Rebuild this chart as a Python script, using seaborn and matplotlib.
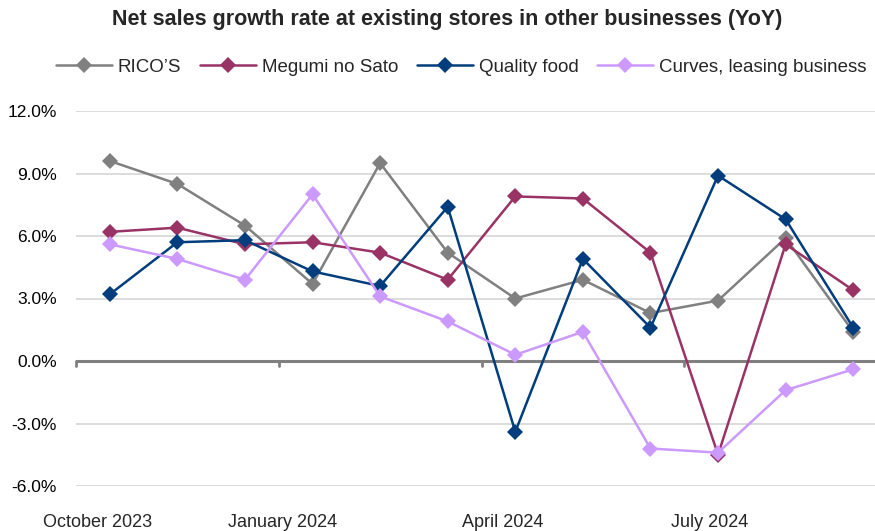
import matplotlib
matplotlib.use("Agg")
import matplotlib.pyplot as plt
import seaborn as sns
import pandas as pd
import numpy as np
from matplotlib.ticker import FuncFormatter, FixedLocator

months = ["2023-10", "2023-11", "2023-12", "2024-01", "2024-02", "2024-03",
          "2024-04", "2024-05", "2024-06", "2024-07", "2024-08", "2024-09"]
ricos = [9.6, 8.5, 6.5, 3.7, 9.5, 5.2, 3.0, 3.9, 2.3, 2.9, 5.9, 1.4]
megumi = [6.2, 6.4, 5.6, 5.7, 5.2, 3.9, 7.9, 7.8, 5.2, -4.5, 5.6, 3.4]
quality = [3.2, 5.7, 5.8, 4.3, 3.6, 7.4, -3.4, 4.9, 1.6, 8.9, 6.8, 1.6]
curves = [5.6, 4.9, 3.9, 8.0, 3.1, 1.9, 0.3, 1.4, -4.2, -4.4, -1.4, -0.4]
series_names = ["RICO\u2019S", "Megumi no Sato", "Quality food", "Curves, leasing business"]
colors = ["#808080", "#993366", "#003D7C", "#CC99FF"]
tick_labels = ["October 2023", "January 2024", "April 2024", "July 2024"]
tick_label_pos = [-0.18, 2.56, 5.82, 8.87]
yticks = [-6, -3, 0, 3, 6, 9, 12]
title = "Net sales growth rate at existing stores in other businesses (YoY)"

rows = []
for name, vals in zip(series_names, [ricos, megumi, quality, curves]):
    for i, v in enumerate(vals):
        rows.append({"idx": i, "month": months[i], "value": v, "series": name})
df = pd.DataFrame(rows)

sns.set_theme(style="white")
plt.rcParams["font.family"] = ["Liberation Sans", "DejaVu Sans"]

fig = plt.figure(figsize=(8.75, 5.31), dpi=100)
ax = fig.add_axes([76/875, (531-486)/531, (887-76)/875, (486-111)/531])

for y in yticks:
    if y != 0:
        ax.axhline(y, color="#D9D9D9", lw=1.3, zorder=0)
ax.axhline(0, color="#808080", lw=2.2, zorder=1)

sns.lineplot(data=df, x="idx", y="value", hue="series", style="series",
             palette=dict(zip(series_names, colors)),
             markers={n: "D" for n in series_names}, dashes=False,
             markersize=8, markeredgewidth=0, linewidth=1.8, ax=ax,
             hue_order=series_names, style_order=series_names, zorder=3)

ax.set_xlim(-0.5, 11.5)
ax.set_ylim(-6, 12)
ax.set_yticks(yticks)
ax.yaxis.set_major_formatter(FuncFormatter(lambda v, p: f"{v:.1f}%"))
ax.tick_params(axis="y", length=0, labelsize=12.5, pad=14, colors="black")

ax.xaxis.set_major_locator(FixedLocator([-0.5, 2.5, 5.5, 8.5]))
ax.xaxis.set_major_formatter(FuncFormatter(lambda v, p: ""))
ax.xaxis.set_minor_locator(FixedLocator(tick_label_pos))
ax.set_xticklabels(tick_labels, minor=True)
ax.tick_params(axis="x", which="major", length=0, bottom=False, top=False)
ax.tick_params(axis="x", which="minor", length=0, labelsize=13, pad=20)
for t in [-0.5, 2.5, 5.5, 8.5]:
    ax.plot([t, t], [0, -0.25], color="#808080", lw=2, zorder=1, clip_on=False)

ax.set_xlabel("")
ax.set_ylabel("")
for s in ax.spines.values():
    s.set_visible(False)

handles, labels = ax.get_legend_handles_labels()
ax.get_legend().remove()
fig.legend(handles, labels, loc="center", bbox_to_anchor=(461/875, 1-67/531),
           ncol=4, frameon=False, fontsize=13.5, handlelength=3.0,
           columnspacing=1.0, handletextpad=0.3)

fig.text(447/875, 1-20/531, title, ha="center", va="center",
         fontsize=15.5, fontweight="bold")

fig.savefig("out.png", dpi=100)
